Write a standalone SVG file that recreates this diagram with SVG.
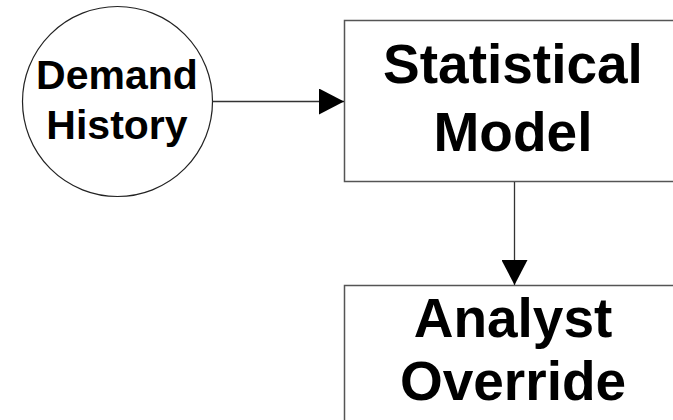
<svg xmlns="http://www.w3.org/2000/svg" width="673" height="420" viewBox="0 0 673 420">
<style>
.shape{fill:#fff;stroke:#555;stroke-width:1.5}
.lbl{font-family:"Liberation Sans",Arial,sans-serif;font-weight:bold;fill:#000;text-anchor:middle}
.conn{stroke:#333;stroke-width:1.3;fill:none}
</style>
<defs>
<marker id="ah" markerWidth="25" markerHeight="26" refX="25" refY="13" orient="auto" markerUnits="userSpaceOnUse">
<path d="M0,0 L25,13 L0,26 Z" fill="#000"/>
</marker>
</defs>
<rect width="673" height="420" fill="#fff"/>
<g id="demand-history">
<circle class="shape" cx="117.5" cy="101.5" r="95" style="stroke:#222;stroke-width:1.2"/>
<text class="lbl" x="117" y="89" font-size="41">Demand</text>
<text class="lbl" x="117" y="139" font-size="41">History</text>
</g>
<g id="statistical-model">
<rect class="shape" x="344.5" y="20.5" width="340" height="161"/>
<text class="lbl" x="513" y="83" font-size="55">Statistical</text>
<text class="lbl" x="513" y="151" font-size="55">Model</text>
</g>
<g id="analyst-override">
<rect class="shape" x="344.5" y="285.5" width="340" height="161"/>
<text class="lbl" x="513" y="337" font-size="55">Analyst</text>
<text class="lbl" x="513" y="400" font-size="55">Override</text>
</g>
<g id="connectors">
<line class="conn" x1="212.5" y1="101.5" x2="344" y2="101.5" marker-end="url(#ah)"/>
<line class="conn" x1="514.5" y1="182" x2="514.5" y2="285" marker-end="url(#ah)"/>
</g>
</svg>
